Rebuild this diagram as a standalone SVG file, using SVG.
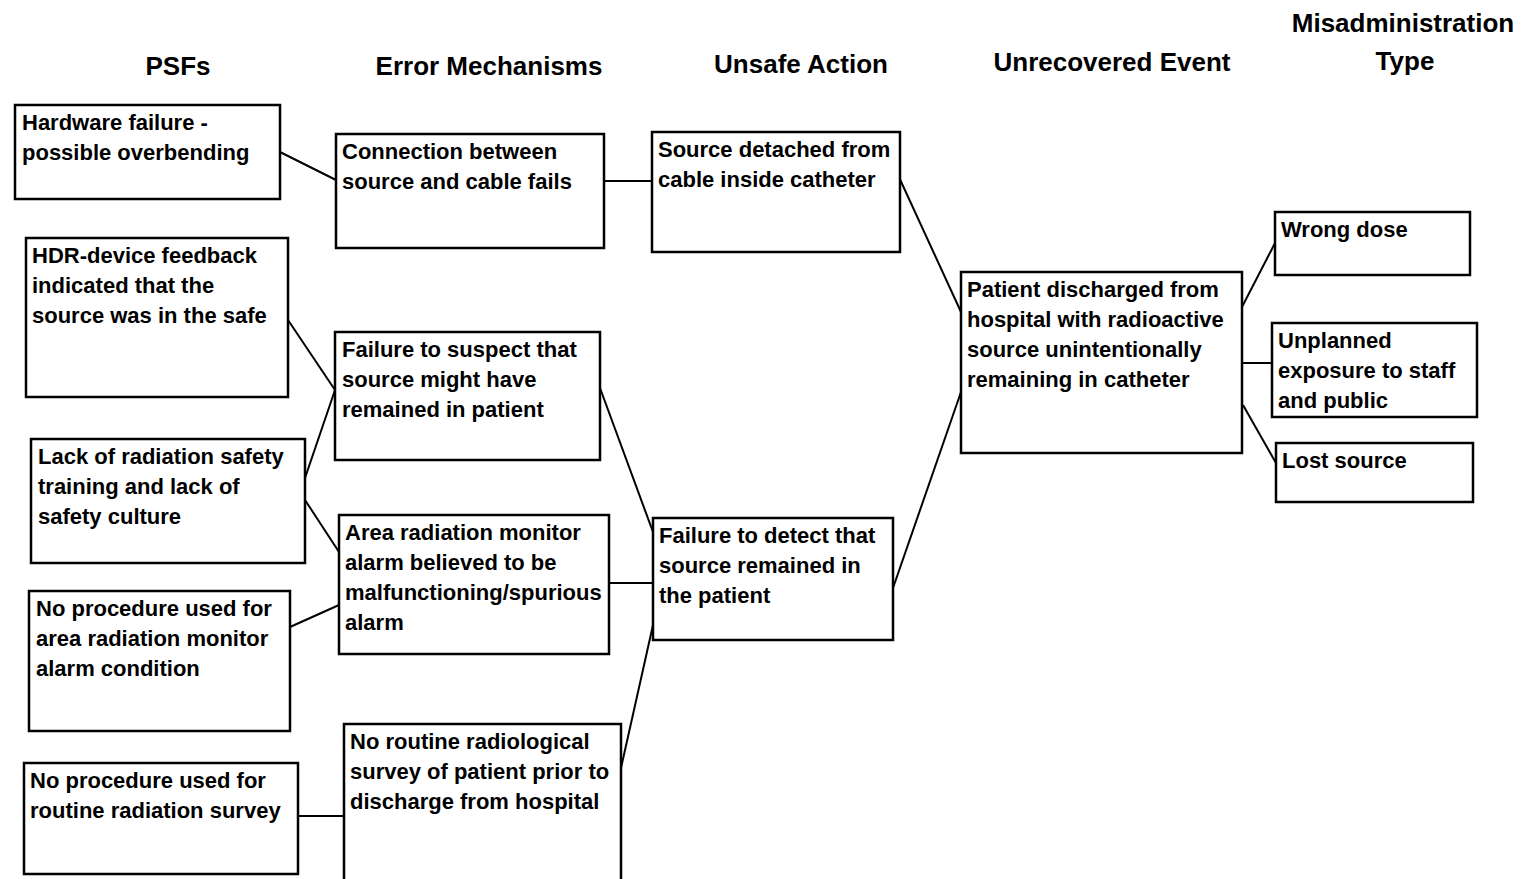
<svg xmlns="http://www.w3.org/2000/svg" width="1524" height="879" viewBox="0 0 1524 879">
  <style>
    .hdr { font-family: "Liberation Sans", Arial, sans-serif; font-weight: bold; font-size: 26px; fill: #000; text-anchor: middle; }
    .box rect { fill: #fff; stroke: #000; stroke-width: 2.5; }
    .box text { font-family: "Liberation Sans", Arial, sans-serif; font-weight: bold; font-size: 22px; fill: #000; }
    #connectors line { stroke: #000; stroke-width: 2; }
  </style>
  <rect x="0" y="0" width="1524" height="879" fill="#fff"/>

  <!-- column headings -->
  <g id="headings">
    <text class="hdr" x="178" y="75">PSFs</text>
    <text class="hdr" x="489" y="75">Error Mechanisms</text>
    <text class="hdr" x="801" y="73">Unsafe Action</text>
    <text class="hdr" x="1112" y="71">Unrecovered Event</text>
    <text class="hdr" x="1403" y="32">Misadministration</text>
    <text class="hdr" x="1405" y="70">Type</text>
  </g>

  <!-- connectors -->
  <g id="connectors">
    <line x1="280" y1="152" x2="336" y2="180"/>
    <line x1="604" y1="181" x2="652" y2="181"/>
    <line x1="288" y1="320" x2="335" y2="390"/>
    <line x1="305" y1="478" x2="335" y2="390"/>
    <line x1="305" y1="500" x2="339" y2="552"/>
    <line x1="290" y1="627" x2="339" y2="605"/>
    <line x1="298" y1="816" x2="344" y2="816"/>
    <line x1="600" y1="388" x2="653" y2="532"/>
    <line x1="609" y1="583" x2="653" y2="583"/>
    <line x1="621" y1="768" x2="653" y2="625"/>
    <line x1="898" y1="175" x2="961" y2="312"/>
    <line x1="893" y1="588" x2="961" y2="392"/>
    <line x1="1242" y1="307" x2="1275" y2="243"/>
    <line x1="1242" y1="363" x2="1272" y2="363"/>
    <line x1="1243" y1="405" x2="1276" y2="463"/>
  </g>

  <!-- PSFs -->
  <g id="psf-hardware" class="box">
    <rect x="15" y="105" width="265" height="94"/>
    <text x="22" y="130">Hardware failure -</text>
    <text x="22" y="160">possible overbending</text>
  </g>
  <g id="psf-hdr-feedback" class="box">
    <rect x="26" y="238" width="262" height="159"/>
    <text x="32" y="263">HDR-device feedback</text>
    <text x="32" y="293">indicated that the</text>
    <text x="32" y="323">source was in the safe</text>
  </g>
  <g id="psf-training" class="box">
    <rect x="31" y="439" width="274" height="124"/>
    <text x="38" y="464">Lack of radiation safety</text>
    <text x="38" y="494">training and lack of</text>
    <text x="38" y="524">safety culture</text>
  </g>
  <g id="psf-alarm-procedure" class="box">
    <rect x="29" y="591" width="261" height="140"/>
    <text x="36" y="616">No procedure used for</text>
    <text x="36" y="646">area radiation monitor</text>
    <text x="36" y="676">alarm condition</text>
  </g>
  <g id="psf-survey-procedure" class="box">
    <rect x="24" y="763" width="274" height="111"/>
    <text x="30" y="788">No procedure used for</text>
    <text x="30" y="818">routine radiation survey</text>
  </g>

  <!-- Error mechanisms -->
  <g id="em-connection" class="box">
    <rect x="336" y="134" width="268" height="114"/>
    <text x="342" y="159">Connection between</text>
    <text x="342" y="189">source and cable fails</text>
  </g>
  <g id="em-suspect" class="box">
    <rect x="335" y="332" width="265" height="128"/>
    <text x="342" y="357">Failure to suspect that</text>
    <text x="342" y="387">source might have</text>
    <text x="342" y="417">remained in patient</text>
  </g>
  <g id="em-monitor" class="box">
    <rect x="339" y="515" width="270" height="139"/>
    <text x="345" y="540">Area radiation monitor</text>
    <text x="345" y="570">alarm believed to be</text>
    <text x="345" y="600">malfunctioning/spurious</text>
    <text x="345" y="630">alarm</text>
  </g>
  <g id="em-no-survey" class="box">
    <rect x="344" y="724" width="277" height="160"/>
    <text x="350" y="749">No routine radiological</text>
    <text x="350" y="779">survey of patient prior to</text>
    <text x="350" y="809">discharge from hospital</text>
  </g>

  <!-- Unsafe actions -->
  <g id="ua-detached" class="box">
    <rect x="652" y="132" width="248" height="120"/>
    <text x="658" y="157">Source detached from</text>
    <text x="658" y="187">cable inside catheter</text>
  </g>
  <g id="ua-detect" class="box">
    <rect x="653" y="518" width="240" height="122"/>
    <text x="659" y="543">Failure to detect that</text>
    <text x="659" y="573">source remained in</text>
    <text x="659" y="603">the patient</text>
  </g>

  <!-- Unrecovered event -->
  <g id="ue-discharged" class="box">
    <rect x="961" y="272" width="281" height="181"/>
    <text x="967" y="297">Patient discharged from</text>
    <text x="967" y="327">hospital with radioactive</text>
    <text x="967" y="357">source unintentionally</text>
    <text x="967" y="387">remaining in catheter</text>
  </g>

  <!-- Misadministration types -->
  <g id="mt-wrong-dose" class="box">
    <rect x="1275" y="212" width="195" height="63"/>
    <text x="1281" y="237">Wrong dose</text>
  </g>
  <g id="mt-exposure" class="box">
    <rect x="1272" y="323" width="205" height="94"/>
    <text x="1278" y="348">Unplanned</text>
    <text x="1278" y="378">exposure to staff</text>
    <text x="1278" y="408">and public</text>
  </g>
  <g id="mt-lost" class="box">
    <rect x="1276" y="443" width="197" height="59"/>
    <text x="1282" y="468">Lost source</text>
  </g>
</svg>
